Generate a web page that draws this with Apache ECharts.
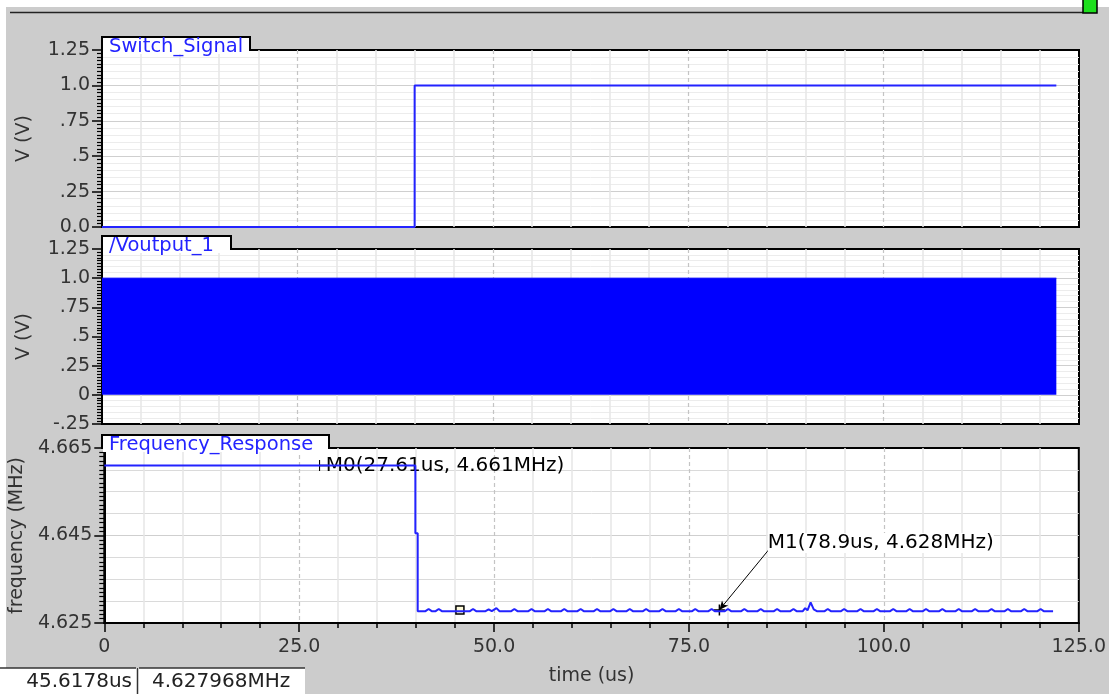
<!DOCTYPE html>
<html><head><meta charset="utf-8">
<script src="https://cdn.jsdelivr.net/npm/echarts@6/dist/echarts.min.js"></script>
<style>html,body{margin:0;padding:0;background:#cccccc}#c{width:1109px;height:694px}</style>
</head><body><div id="c"></div>
<script>
// ---------- data ----------
const switchTime = [0, 40.0, 40.0, 122.1];
const switchVolt = [0, 0, 1, 1];
const voutTime = [0, 122.1];
const voutHigh = [1, 1];
const freqPoints = [
  [0, 4.661], [39.9, 4.661], [39.9, 4.6455], [40.2, 4.6455], [40.2, 4.6277],
  [41.2, 4.6277], [41.6, 4.6282], [42.0, 4.6277], [42.5, 4.6277], [42.9, 4.6282], [43.3, 4.6277],
  [46.9, 4.6277], [47.3, 4.6282], [47.7, 4.6277], [48.9, 4.6277], [49.3, 4.6281], [49.7, 4.6277],
  [49.9, 4.6277], [50.3, 4.6284], [50.7, 4.6277], [52.2, 4.6277], [52.6, 4.6282], [53.0, 4.6277],
  [54.4, 4.6277], [54.8, 4.6282], [55.2, 4.6277], [56.5, 4.6277], [56.9, 4.6282], [57.3, 4.6277],
  [58.6, 4.6277], [59.0, 4.6282], [59.4, 4.6277], [60.7, 4.6277], [61.1, 4.6282], [61.5, 4.6277],
  [62.8, 4.6277], [63.2, 4.6282], [63.6, 4.6277], [64.9, 4.6277], [65.3, 4.6282], [65.7, 4.6277],
  [67.0, 4.6277], [67.4, 4.6282], [67.8, 4.6277], [69.1, 4.6277], [69.5, 4.6282], [69.9, 4.6277],
  [71.2, 4.6277], [71.6, 4.6282], [72.0, 4.6277], [73.3, 4.6277], [73.7, 4.6282], [74.1, 4.6277],
  [75.4, 4.6277], [75.8, 4.6282], [76.2, 4.6277], [77.5, 4.6277], [77.9, 4.6282], [78.3, 4.6277],
  [79.6, 4.6277], [80.0, 4.6282], [80.4, 4.6277], [81.7, 4.6277], [82.1, 4.6282], [82.5, 4.6277],
  [83.8, 4.6277], [84.2, 4.6282], [84.6, 4.6277], [85.9, 4.6277], [86.3, 4.6282], [86.7, 4.6277],
  [88.0, 4.6277], [88.4, 4.6282], [88.8, 4.6277], [89.6, 4.6277], [89.9, 4.6284], [90.2, 4.6279],
  [90.6, 4.6297], [91.0, 4.6281], [91.4, 4.6277], [92.4, 4.6277], [92.8, 4.6282], [93.2, 4.6277],
  [94.5, 4.6277], [94.9, 4.6282], [95.3, 4.6277], [96.6, 4.6277], [97.0, 4.6282], [97.4, 4.6277],
  [98.7, 4.6277], [99.1, 4.6282], [99.5, 4.6277], [100.8, 4.6277], [101.2, 4.6282], [101.6, 4.6277],
  [102.9, 4.6277], [103.3, 4.6282], [103.7, 4.6277], [105.0, 4.6277], [105.4, 4.6282], [105.8, 4.6277],
  [107.1, 4.6277], [107.5, 4.6282], [107.9, 4.6277], [109.2, 4.6277], [109.6, 4.6282], [110.0, 4.6277],
  [111.3, 4.6277], [111.7, 4.6282], [112.1, 4.6277], [113.4, 4.6277], [113.8, 4.6282], [114.2, 4.6277],
  [115.5, 4.6277], [115.9, 4.6282], [116.3, 4.6277], [117.6, 4.6277], [118.0, 4.6282], [118.4, 4.6277],
  [119.7, 4.6277], [120.1, 4.6282], [120.5, 4.6277], [121.7, 4.6277]
];
const timeTicks = [0, 25, 50, 75, 100, 125];
const timeTickLabels = ['0', '25.0', '50.0', '75.0', '100.0', '125.0'];
const voltTicks1 = [0, 0.25, 0.5, 0.75, 1, 1.25];
const voltTickLabels1 = ['0.0', '.25', '.5', '.75', '1.0', '1.25'];
const voltTicks2 = [-0.25, 0, 0.25, 0.5, 0.75, 1, 1.25];
const voltTickLabels2 = ['-.25', '0', '.25', '.5', '.75', '1.0', '1.25'];
const freqTicks = [4.625, 4.645, 4.665];
const freqTickLabels = ['4.625', '4.645', '4.665'];
const panelTitles = ['Switch_Signal', '/Voutput_1', 'Frequency_Response'];
const markerNames = ['M0', 'M1'];
const markerTime = [27.61, 78.9];
const markerFreq = [4.661, 4.628];
const m1LabelAnchor = [85.3, 4.6419];
const cursorTime = 45.6178;
const cursorFreq = 4.627968;

// ---------- chart ----------
const FONT = 'DejaVu Sans';
const zip = (a, b) => a.map((v, i) => [v, b[i]]);
const fmt = (ticks, labels) => v => {
  const i = ticks.findIndex(t => Math.abs(t - v) < 1e-7);
  return i >= 0 ? labels[i] : '';
};
const G = [
  { left: 102, top: 50, width: 977, height: 177 },
  { left: 102, top: 249, width: 977, height: 175 },
  { left: 102, top: 448, width: 977, height: 175 }
];

function xAxis(i) {
  const bottom = i === 2;
  return {
    type: 'value', gridIndex: i, min: 0, max: 125, interval: 25,
    axisLine: { show: bottom, onZero: false, lineStyle: { color: '#000', width: 2 } },
    axisTick: { show: bottom, length: 9, lineStyle: { color: '#000', width: 1.5 } },
    minorTick: { show: bottom, splitNumber: 5, length: 5, lineStyle: { color: '#000', width: 1.5 } },
    axisLabel: { show: bottom, formatter: fmt(timeTicks, timeTickLabels), color: '#333', fontSize: 19, fontFamily: FONT, margin: 15 },
    splitLine: { show: true, showMinLine: false, showMaxLine: false, lineStyle: { color: '#c4c4c4', type: [4, 3], width: 1.2 } },
    minorSplitLine: { show: true, lineStyle: { color: '#e6e6e6', width: 1.5 } },
    name: bottom ? 'time (us)' : '', nameLocation: 'middle', nameGap: 44,
    nameTextStyle: { color: '#333', fontSize: 19, fontFamily: FONT }
  };
}
function minorY(i, min, max, step, color) {
  return {
    type: 'value', gridIndex: i, min, max, interval: step, position: 'right',
    axisLine: { show: false }, axisTick: { show: false }, axisLabel: { show: false },
    splitLine: { show: true, showMinLine: false, showMaxLine: false, lineStyle: { color, width: 1 } }
  };
}
function mainY(i, min, max, step, ticks, labels, name, minorSplit) {
  return {
    type: 'value', gridIndex: i, min, max, interval: step, position: 'left',
    axisLine: { show: true, lineStyle: { color: '#000', width: 2 } },
    axisTick: { show: true, length: 10, lineStyle: { color: '#000', width: 1.5 } },
    minorTick: { show: true, splitNumber: minorSplit, length: 5, lineStyle: { color: '#000', width: 1.2 } },
    axisLabel: { formatter: fmt(ticks, labels), color: '#333', fontSize: 19, fontFamily: FONT, margin: 12 },
    splitLine: { show: true, showMinLine: false, showMaxLine: false, lineStyle: { color: '#cfcfcf', width: 1.2 } },
    name, nameLocation: 'middle', nameRotate: 90, nameGap: 68,
    nameTextStyle: { color: '#333', fontSize: 19, fontFamily: FONT }
  };
}

const tabW = [148, 129, 227];
const graphics = [
  { type: 'rect', z: 100, shape: { x: 0, y: 0, width: 1109, height: 7 }, style: { fill: '#fff' } },
  { type: 'rect', z: 100, shape: { x: 0, y: 0, width: 6, height: 694 }, style: { fill: '#fff' } },
  { type: 'line', z: 100, shape: { x1: 10, y1: 12.5, x2: 1083, y2: 12.5 }, style: { stroke: '#222', lineWidth: 1.5 } },
  { type: 'rect', z: 101, shape: { x: 1083, y: -1, width: 14, height: 14 }, style: { fill: '#1ee01e', stroke: '#000', lineWidth: 1.5 } },
  // status bar
  { type: 'rect', z: 100, shape: { x: 0, y: 668, width: 137, height: 30 }, style: { fill: '#fff' } },
  { type: 'rect', z: 100, shape: { x: 138, y: 668, width: 167, height: 30 }, style: { fill: '#fff' } },
  { type: 'line', z: 101, shape: { x1: 0, y1: 668, x2: 136, y2: 668 }, style: { stroke: '#333', lineWidth: 1.5 } },
  { type: 'line', z: 101, shape: { x1: 139, y1: 668, x2: 305, y2: 668 }, style: { stroke: '#333', lineWidth: 1.5 } },
  { type: 'line', z: 101, shape: { x1: 137.5, y1: 668, x2: 137.5, y2: 694 }, style: { stroke: '#333', lineWidth: 1.5 } },
  { type: 'text', z: 102, style: { text: cursorTime + 'us', x: 132, y: 682, align: 'right', verticalAlign: 'middle', fill: '#222', fontSize: 20, fontFamily: FONT } },
  { type: 'text', z: 102, style: { text: cursorFreq + 'MHz', x: 152, y: 682, align: 'left', verticalAlign: 'middle', fill: '#222', fontSize: 20, fontFamily: FONT } }
];
G.forEach((g, i) => {
  const top = g.top - 13;
  graphics.push({ type: 'rect', z: 100, shape: { x: g.left + 1, y: top + 1, width: tabW[i] - 2, height: 16 }, style: { fill: '#fff' } });
  graphics.push({ type: 'polyline', z: 101, shape: { points: [[g.left, g.top + 1], [g.left, top], [g.left + tabW[i], top], [g.left + tabW[i], g.top]] }, style: { stroke: '#000', lineWidth: 2, fill: null } });
  graphics.push({ type: 'text', z: 102, style: { text: panelTitles[i], x: g.left + 7, y: top + 9.5, verticalAlign: 'middle', fill: '#2323ff', fontSize: 19.5, fontFamily: FONT } });
});

const plusPath = 'path://M5,0L5,10M0,5L10,5';
const option = {
  backgroundColor: '#cccccc',
  animation: false,
  grid: G.map(g => Object.assign({ show: true, backgroundColor: '#fff', borderColor: '#000', borderWidth: 2, containLabel: false }, g)),
  xAxis: [xAxis(0), xAxis(1), xAxis(2)],
  yAxis: [
    minorY(0, 0, 1.25, 0.05, '#ececec'),
    mainY(0, 0, 1.25, 0.25, voltTicks1, voltTickLabels1, 'V (V)', 10),
    minorY(1, -0.25, 1.25, 0.05, '#ececec'),
    mainY(1, -0.25, 1.25, 0.25, voltTicks2, voltTickLabels2, 'V (V)', 10),
    minorY(2, 4.625, 4.665, 0.005, '#dadada'),
    mainY(2, 4.625, 4.665, 0.02, freqTicks, freqTickLabels, 'frequency (MHz)', 20)
  ],
  graphic: graphics,
  series: [
    {
      type: 'line', xAxisIndex: 0, yAxisIndex: 1, data: zip(switchTime, switchVolt),
      showSymbol: false, lineStyle: { color: '#2323ff', width: 2 }, z: 5
    },
    {
      type: 'line', xAxisIndex: 1, yAxisIndex: 3, data: zip(voutTime, voutHigh),
      showSymbol: false, lineStyle: { color: '#0000ff', width: 1 },
      areaStyle: { color: '#0000ff', opacity: 1, origin: 0 }, z: 5
    },
    {
      type: 'line', xAxisIndex: 2, yAxisIndex: 5, data: freqPoints,
      showSymbol: false, lineStyle: { color: '#2323ff', width: 2 }, z: 5,
      markLine: {
        silent: true, symbol: ['arrow', 'none'], symbolSize: [6, 9],
        lineStyle: { color: '#000', width: 1, type: 'solid' }, label: { show: false },
        data: [[{ coord: [markerTime[1], markerFreq[1]] }, { coord: m1LabelAnchor }]]
      },
      markPoint: {
        silent: true,
        label: { color: '#000', fontSize: 20, fontFamily: FONT },
        data: [
          {
            coord: [markerTime[0], markerFreq[0]], symbol: 'path://M0,0L0,10M0,5L8,5', symbolSize: [8, 11], symbolOffset: [4, 0],
            itemStyle: { color: 'none', borderColor: '#000', borderWidth: 1.3 },
            label: { show: true, position: 'right', distance: -4, formatter: `${markerNames[0]}(${markerTime[0]}us, ${markerFreq[0]}MHz)` }
          },
          {
            coord: [cursorTime, cursorFreq], symbol: 'rect', symbolSize: 8,
            itemStyle: { color: '#fdf9d8', borderColor: '#000', borderWidth: 1.5 }, label: { show: false }
          },
          {
            coord: [markerTime[1], markerFreq[1]], symbol: plusPath, symbolSize: 11,
            itemStyle: { color: 'none', borderColor: '#000', borderWidth: 1.5 }, label: { show: false }
          },
          {
            coord: m1LabelAnchor, symbol: 'circle', symbolSize: 1,
            itemStyle: { color: 'rgba(0,0,0,0)' },
            label: { show: true, position: 'right', distance: 0, offset: [-2, -6], backgroundColor: '#fff', formatter: `${markerNames[1]}(${markerTime[1]}us, ${markerFreq[1]}MHz)` }
          }
        ]
      }
    }
  ]
};
const chart = echarts.init(document.getElementById('c'), null, { renderer: 'canvas' });
chart.setOption(option);
</script>
</body></html>
